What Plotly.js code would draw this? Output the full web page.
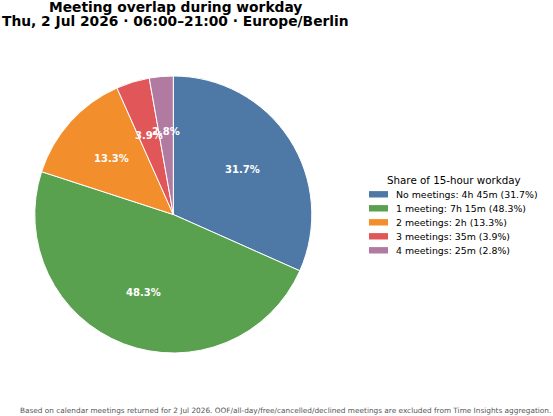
<!DOCTYPE html>
<html><head><meta charset="utf-8">
<script src="https://cdn.plot.ly/plotly-3.0.1.min.js"></script>
<style>body{margin:0;padding:0;}#chart{width:553px;height:416px;}</style>
</head><body><div id="chart"></div>
<script>
const labels = ["No meetings: 4h 45m (31.7%)", "1 meeting: 7h 15m (48.3%)", "2 meetings: 2h (13.3%)", "3 meetings: 35m (3.9%)", "4 meetings: 25m (2.8%)"];
const minutes = [285, 435, 120, 35, 25];
const pctText = ["31.7%", "48.3%", "13.3%", "3.9%", "2.8%"];
const colors = ["#4e79a7", "#59a14f", "#f28e2b", "#e15759", "#b07aa1"];
const legendTitle = "Share of 15-hour workday";
const titleLines = ["Meeting overlap during workday", "Thu, 2 Jul 2026 · 06:00–21:00 · Europe/Berlin"];
const footnote = "Based on calendar meetings returned for 2 Jul 2026. OOF/all-day/free/cancelled/declined meetings are excluded from Time Insights aggregation.";

const W = 553, H = 416;
// pie geometry (pixels)
const cx = 173.3, cy = 214.5, R = 138.5;
const dom = {x: [(cx - R) / W, (cx + R) / W], y: [(H - cy - R) / H, (H - cy + R) / H]};

const trace = {
  type: "pie",
  labels: labels,
  values: minutes,
  textinfo: "none",
  sort: false,
  direction: "clockwise",
  rotation: 0,
  marker: {colors: colors, line: {color: "#ffffff", width: 1}},
  domain: dom,
  hoverinfo: "label+percent",
  showlegend: false
};

const annotations = [];
const shapes = [];
// percentage labels at 0.6 R along each slice's bisector
const total = minutes.reduce((a, b) => a + b, 0);
let cum = 0;
minutes.forEach((v, i) => {
  const mid = 90 - (cum + v / 2) / total * 360;
  cum += v;
  const a = mid * Math.PI / 180;
  const px = cx + 0.6 * R * Math.cos(a);
  const py = cy - 0.6 * R * Math.sin(a);
  annotations.push({
    text: "<b>" + pctText[i] + "</b>", xref: "paper", yref: "paper",
    x: px / W, y: 1 - py / H, xanchor: "center", yanchor: "middle", showarrow: false,
    font: {family: "DejaVu Sans", size: 10, color: "#ffffff"}
  });
});

// title lines
const titleY = [6.8, 21.5];
titleLines.forEach((t, i) => {
  annotations.push({
    text: "<b>" + t + "</b>", xref: "paper", yref: "paper",
    x: 175 / W, y: 1 - titleY[i] / H, xanchor: "center", yanchor: "middle", showarrow: false,
    font: {family: "DejaVu Sans", size: 13.8, color: "#000000"}
  });
});

// legend
const legX = 369, legTitleY = 180, rowY0 = 194.3, rowDy = 14;
annotations.push({
  text: legendTitle, xref: "paper", yref: "paper",
  x: 454 / W, y: 1 - legTitleY / H, xanchor: "center", yanchor: "middle", showarrow: false,
  font: {family: "DejaVu Sans", size: 10.3, color: "#000000"}
});
labels.forEach((lab, i) => {
  const yy = rowY0 + i * rowDy;
  shapes.push({
    type: "rect", xref: "paper", yref: "paper",
    x0: legX / W, x1: (legX + 19) / W, y0: 1 - (yy - 3.2) / H, y1: 1 - (yy + 3.2) / H,
    fillcolor: colors[i], line: {width: 0}
  });
  annotations.push({
    text: lab, xref: "paper", yref: "paper",
    x: 394 / W, y: 1 - yy / H, xanchor: "left", yanchor: "middle", showarrow: false,
    font: {family: "DejaVu Sans", size: 9.4, color: "#000000"}
  });
});

// footnote
annotations.push({
  text: footnote, xref: "paper", yref: "paper",
  x: 285.5 / W, y: 1 - 410 / H, xanchor: "center", yanchor: "middle", showarrow: false,
  font: {family: "DejaVu Sans", size: 7.34, color: "#555555"}
});

const layout = {
  width: W, height: H,
  margin: {l: 0, r: 0, t: 0, b: 0, pad: 0, autoexpand: false},
  paper_bgcolor: "#ffffff",
  font: {family: "DejaVu Sans", color: "#000000"},
  showlegend: false,
  annotations: annotations,
  shapes: shapes
};
Plotly.newPlot("chart", [trace], layout, {displayModeBar: false, staticPlot: true});
</script></body></html>
